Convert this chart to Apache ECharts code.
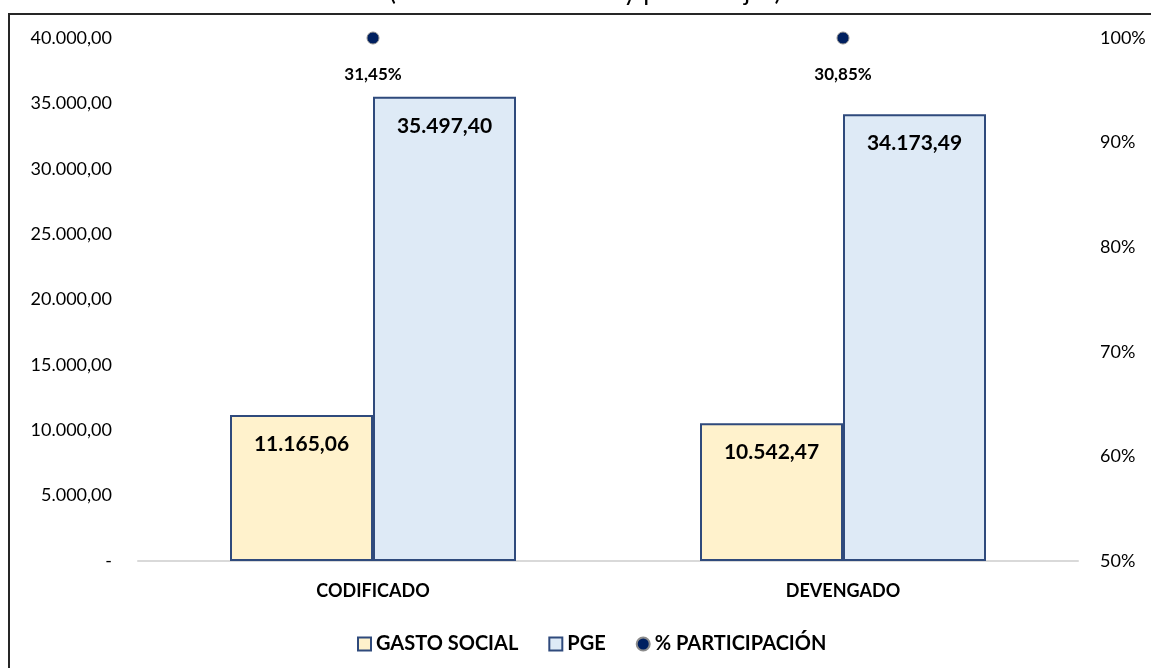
<!DOCTYPE html>
<html>
<head>
<meta charset="utf-8">
<script src="https://cdn.jsdelivr.net/npm/echarts@6/dist/echarts.min.js"></script>
<style>
  html, body { margin: 0; padding: 0; background: #fff; }
  #chart { width: 1151px; height: 668px; }
</style>
</head>
<body>
<div id="chart"></div>
<script>
var categories = ['CODIFICADO', 'DEVENGADO'];
var gastoSocial = [11165.06, 10542.47];
var pge = [35497.40, 34173.49];
var participacion = [31.45, 30.85];
var leftTicks = [0, 5000, 40000];
var rightTicks = [50, 100];

var FONT = 'Lato, "Open Sans", sans-serif';

function fmt(v, d) {
    var parts = v.toFixed(d).split('.');
    parts[0] = parts[0].replace(/\B(?=(\d{3})+(?!\d))/g, '.');
    return parts.join(',');
}

var chart = echarts.init(document.getElementById('chart'));
chart.setOption({
    animation: false,
    textStyle: { fontFamily: FONT },
    title: {
        text: '(Millones de dólares y porcentajes)',
        left: 384,
        top: -26,
        textStyle: { fontFamily: FONT, fontSize: 26, fontWeight: 'normal', color: '#000' }
    },
    graphic: [{
        type: 'rect',
        shape: { x: 9, y: 14, width: 1200, height: 700 },
        style: { fill: 'none', stroke: '#262626', lineWidth: 2 },
        silent: true
    }],
    grid: { left: 138, right: 73, top: 38, bottom: 107 },
    legend: {
        top: 629,
        left: 352,
        itemWidth: 13,
        itemHeight: 13,
        itemGap: 30,
        textStyle: { fontFamily: FONT, fontSize: 20, fontWeight: 'bold', color: '#000' },
        data: [
            { name: 'GASTO SOCIAL', icon: 'rect' },
            { name: 'PGE', icon: 'rect' },
            { name: '% PARTICIPACIÓN', icon: 'circle' }
        ]
    },
    xAxis: {
        type: 'category',
        data: categories,
        axisTick: { show: false },
        axisLine: { lineStyle: { color: '#d9d9d9', width: 2 } },
        axisLabel: { margin: 21, fontFamily: FONT, fontSize: 18, fontWeight: 'bold', color: '#000' }
    },
    yAxis: [{
        type: 'value',
        min: leftTicks[0],
        max: leftTicks[2],
        interval: leftTicks[1],
        splitLine: { show: false },
        axisLine: { show: false },
        axisTick: { show: false },
        axisLabel: {
            margin: 26, fontFamily: FONT, fontSize: 18, color: '#000',
            formatter: function (v) { return v === 0 ? '-' : fmt(v, 2); }
        }
    }, {
        type: 'value',
        position: 'right',
        min: rightTicks[0],
        max: rightTicks[1],
        interval: 10,
        splitLine: { show: false },
        axisLine: { show: false },
        axisTick: { show: false },
        axisLabel: { margin: 22, fontFamily: FONT, fontSize: 18, color: '#000', formatter: '{value}%' }
    }, {
        // hidden axis: the percentages sit at the top edge as in the original
        type: 'value',
        show: false,
        inverse: true,
        min: 30,
        max: 1000000
    }],
    series: [{
        name: 'GASTO SOCIAL',
        type: 'bar',
        data: gastoSocial,
        barWidth: 143,
        barGap: '0%',
        itemStyle: { color: '#FFF2CC', borderColor: '#2F4A7C', borderWidth: 2 },
        label: {
            show: true, position: 'insideTop', distance: 19,
            fontFamily: FONT, fontSize: 21, fontWeight: 'bold', color: '#000',
            formatter: function (p) { return fmt(p.value, 2); }
        }
    }, {
        name: 'PGE',
        type: 'bar',
        data: pge,
        barWidth: 143,
        barGap: '0%',
        itemStyle: { color: '#DEEAF6', borderColor: '#2F4A7C', borderWidth: 2 },
        label: {
            show: true, position: 'insideTop', distance: 19,
            fontFamily: FONT, fontSize: 21, fontWeight: 'bold', color: '#000',
            formatter: function (p) { return fmt(p.value, 2); }
        }
    }, {
        name: '% PARTICIPACIÓN',
        type: 'scatter',
        yAxisIndex: 2,
        data: participacion,
        symbol: 'circle',
        symbolSize: 12,
        clip: false,
        itemStyle: { color: '#002060', borderColor: '#8c8c8c', borderWidth: 1, opacity: 1 },
        label: {
            show: true, position: 'bottom', distance: 22,
            fontFamily: FONT, fontSize: 17, fontWeight: 'bold', color: '#000', opacity: 1,
            formatter: function (p) { return fmt(p.value, 2) + '%'; }
        }
    }]
});
</script>
</body>
</html>
